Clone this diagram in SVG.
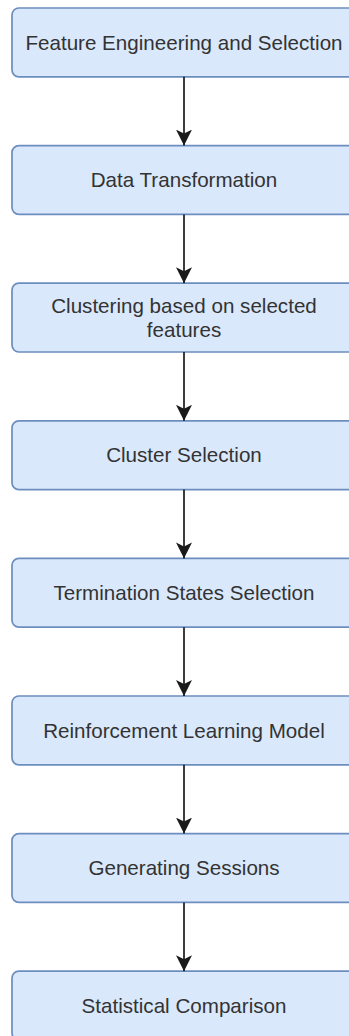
<svg xmlns="http://www.w3.org/2000/svg" width="349" height="1036" viewBox="0 0 349 1036">
  <defs>
    <style>
      .box { fill: #dae8fc; stroke: #6c8ebf; stroke-width: 1.7; }
      .label { font-family: "Liberation Sans", Arial, sans-serif; font-size: 20.6px; fill: #333333; text-anchor: middle; }
      .edge { fill: none; stroke: #1a1a1a; stroke-width: 1.7; }
    </style>
    <marker id="arrow" markerUnits="userSpaceOnUse" markerWidth="16" markerHeight="16" refX="14" refY="7" orient="auto" viewBox="0 0 14 14">
      <path d="M0,0 L14,7 L0,14 L3.5,7 Z" fill="#1a1a1a"/>
    </marker>
  </defs>

  <rect width="349" height="1036" fill="#ffffff"/>

  <!-- process steps, top to bottom -->
  <g id="step-feature-engineering">
    <rect class="box" x="12" y="8" width="344" height="68.8" rx="6.9"/>
    <text class="label" x="184" y="49.5">Feature Engineering and Selection</text>
  </g>
  <g id="step-data-transformation">
    <rect class="box" x="12" y="145.6" width="344" height="68.8" rx="6.9"/>
    <text class="label" x="184" y="187">Data Transformation</text>
  </g>
  <g id="step-clustering">
    <rect class="box" x="12" y="283.2" width="344" height="68.8" rx="6.9"/>
    <text class="label" x="184" y="312.5">Clustering based on selected</text>
    <text class="label" x="184" y="337">features</text>
  </g>
  <g id="step-cluster-selection">
    <rect class="box" x="12" y="420.8" width="344" height="68.8" rx="6.9"/>
    <text class="label" x="184" y="462.3">Cluster Selection</text>
  </g>
  <g id="step-termination-states">
    <rect class="box" x="12" y="558.4" width="344" height="68.8" rx="6.9"/>
    <text class="label" x="184" y="599.9">Termination States Selection</text>
  </g>
  <g id="step-rl-model">
    <rect class="box" x="12" y="696" width="344" height="68.8" rx="6.9"/>
    <text class="label" x="184" y="737.5">Reinforcement Learning Model</text>
  </g>
  <g id="step-generating-sessions">
    <rect class="box" x="12" y="833.6" width="344" height="68.8" rx="6.9"/>
    <text class="label" x="184" y="875.1">Generating Sessions</text>
  </g>
  <g id="step-statistical-comparison">
    <rect class="box" x="12" y="971.2" width="344" height="68.8" rx="6.9"/>
    <text class="label" x="184" y="1012.7">Statistical Comparison</text>
  </g>

  <!-- connectors -->
  <g id="connectors">
    <path class="edge" d="M184,76.8 V145.6" marker-end="url(#arrow)"/>
    <path class="edge" d="M184,214.4 V283.2" marker-end="url(#arrow)"/>
    <path class="edge" d="M184,352 V420.8" marker-end="url(#arrow)"/>
    <path class="edge" d="M184,489.6 V558.4" marker-end="url(#arrow)"/>
    <path class="edge" d="M184,627.2 V696" marker-end="url(#arrow)"/>
    <path class="edge" d="M184,764.8 V833.6" marker-end="url(#arrow)"/>
    <path class="edge" d="M184,902.4 V971.2" marker-end="url(#arrow)"/>
  </g>
</svg>
